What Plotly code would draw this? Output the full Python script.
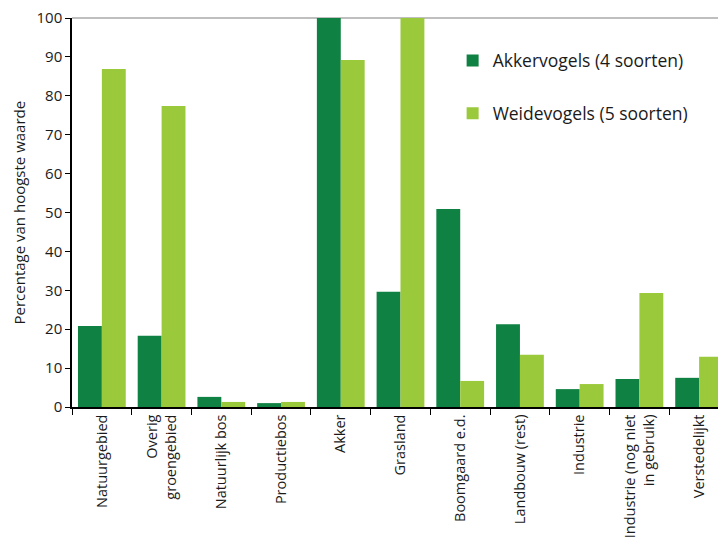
import plotly.graph_objects as go

categories = ["Natuurgebied", "Overig<br>groengebied", "Natuurlijk bos", "Productiebos", "Akker",
              "Grasland", "Boomgaard e.d.", "Landbouw (rest)", "Industrie",
              "Industrie (nog niet<br>in gebruik)", "Verstedelijkt"]
akkervogels = [20.8, 18.3, 2.6, 1.0, 100, 29.6, 50.9, 21.3, 4.6, 7.2, 7.5]
weidevogels = [86.9, 77.4, 1.3, 1.3, 89.2, 100, 6.7, 13.4, 5.9, 29.3, 12.9]
y_ticks = [0, 10, 20, 30, 40, 50, 60, 70, 80, 90, 100]

DARK = "#0f8142"
LIGHT = "#9bc93c"
FONT = "Open Sans"

fig = go.Figure()
fig.add_trace(go.Bar(x=categories, y=akkervogels, name="Akkervogels (4 soorten)",
                     marker=dict(color=DARK, line=dict(width=0)), legendgroup="a"))
fig.add_trace(go.Bar(x=categories, y=weidevogels, name="Weidevogels (5 soorten)",
                     marker=dict(color=LIGHT, line=dict(width=0)), legendgroup="b"))

# page body has an 8px margin, so the canvas is shrunk by 8px to keep the plot in place
fig.update_layout(
    width=718, height=541,
    margin=dict(l=64, r=0, t=10, b=142),
    paper_bgcolor="white", plot_bgcolor="white",
    barmode="group", bargap=0.2, bargroupgap=0,
    font=dict(family=FONT, size=15, color="#1a1a1a"),
    showlegend=True,
    legend=dict(x=0.582, y=0.937, xanchor="left", yanchor="top",
                traceorder="grouped", tracegroupgap=27,
                font=dict(size=17.5, family=FONT, color="#1a1a1a"),
                bgcolor="rgba(0,0,0,0)"),
    xaxis=dict(
        automargin=False, ticklabeloverflow="allow",
        showline=True, linecolor="black", linewidth=1.5,
        ticks="outside", tickson="boundaries", ticklen=6, tickcolor="black",
        tickangle=-90, tickfont=dict(size=14.5),
        range=[-0.5, 10.45], showgrid=False,
    ),
    yaxis=dict(
        automargin=False, ticklabeloverflow="allow",
        range=[0, 100], tickvals=y_ticks, showgrid=False, zeroline=False,
        showline=True, linecolor="black", linewidth=1.5,
        ticks="outside", ticklen=5, tickcolor="black",
        tickfont=dict(size=15),
    ),
)
fig.add_annotation(text="Percentage van hoogste waarde", xref="paper", yref="paper",
                   x=-(72 - 18) / 654, y=0.5, textangle=-90, showarrow=False,
                   xanchor="center", yanchor="middle", font=dict(size=15))
fig.add_shape(type="line", xref="paper", yref="paper", x0=0, x1=1, y0=1, y1=1,
              line=dict(color="#aaaaaa", width=1.5), layer="below")

fig.write_html("out.html")
